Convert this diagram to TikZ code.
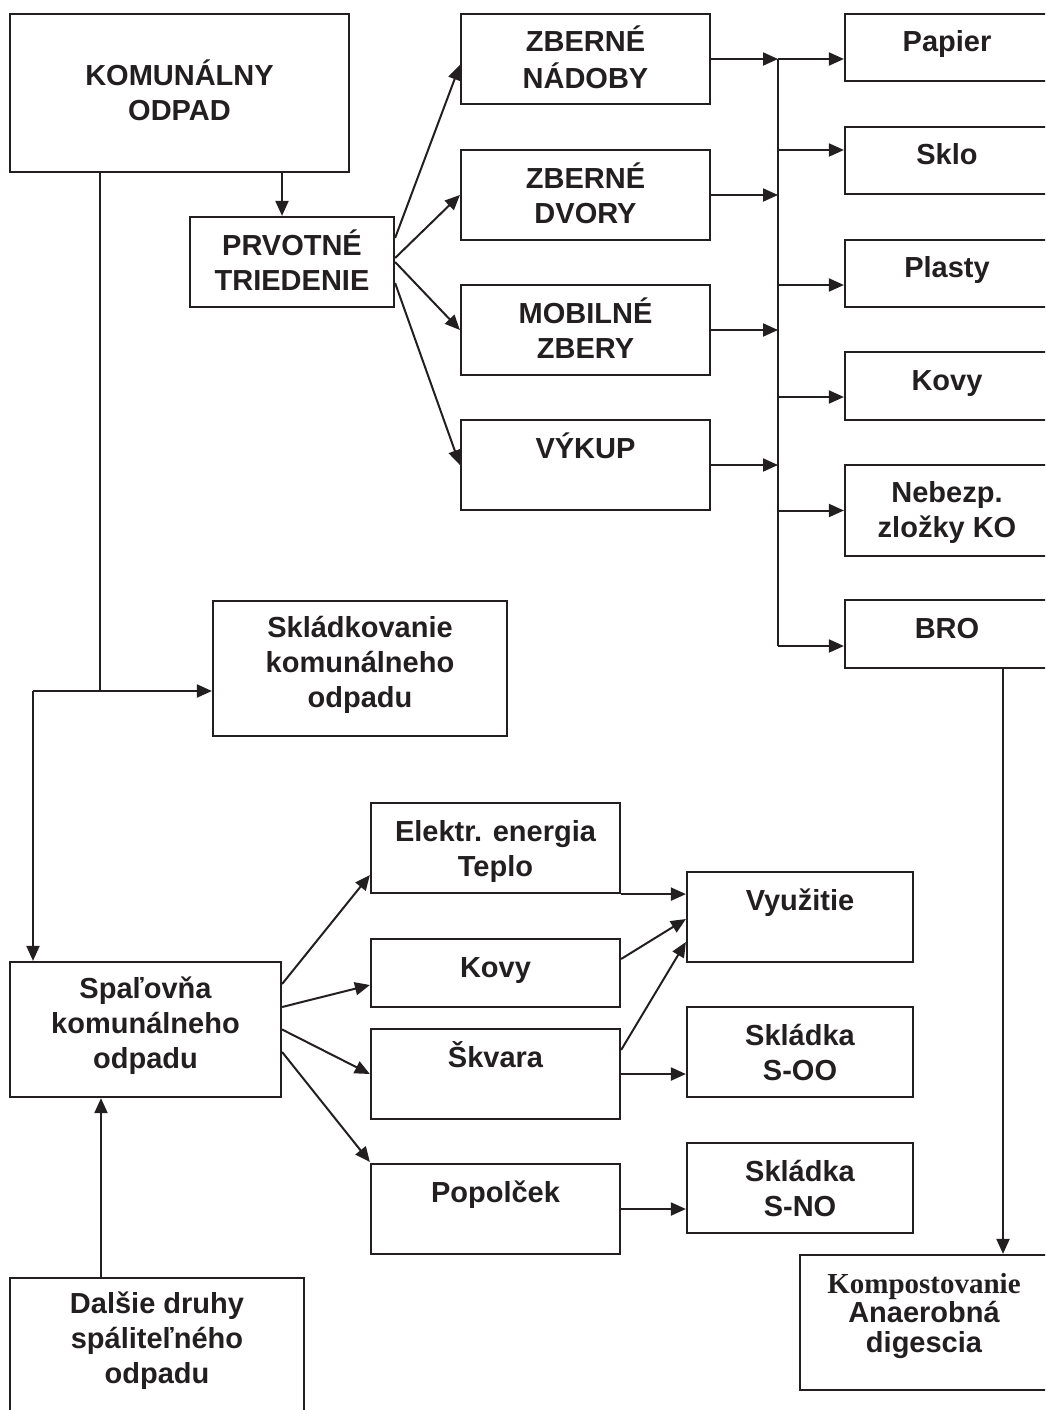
\documentclass[tikz,border=0pt]{standalone}
\usepackage{fontspec}
\setmainfont{Liberation Sans}
\newfontfamily\timesbf{Liberation Serif}
\usetikzlibrary{arrows.meta,calc}
\definecolor{ink}{HTML}{231F20}
\newcommand\mltx[1]{\begin{tabular}[t]{@{}c@{}}#1\end{tabular}}
\begin{document}
\begin{tikzpicture}[x=1pt,y=-1pt,
  box/.style={draw=ink, line width=2.2pt, rectangle, inner sep=0pt, text=ink,
              font=\fontsize{29}{35}\selectfont\bfseries},
  lo/.style={text height=#1, text depth=0pt},
  hi/.style={text height=0pt, text depth=#1},
  con/.style={draw=ink, line width=2pt},
  arr/.style={con, -{Triangle[length=15pt,width=13pt]}},
  mid/.style={box, minimum width=249pt, minimum height=90pt},
  rgt/.style={box, minimum width=204pt, minimum height=67pt, lo=8pt},
  low/.style={box, minimum width=249pt},
  res/.style={box, minimum width=226pt, minimum height=90pt, hi=14pt}
]
\path[use as bounding box] (0,0) rectangle (1045,1410);
\clip (0,0) rectangle (1045,1410);

% boxes
\node[box, minimum width=339pt, minimum height=158pt, hi=14pt] (ko) at (179.5,93) {\mltx{KOMUNÁLNY\\ODPAD}};
\node[box, minimum width=204pt, minimum height=90pt, hi=14pt] (prv) at (292,262) {\mltx{PRVOTNÉ\\TRIEDENIE}};

\node[mid, hi=14pt] (zn) at (585.5,59)  {\mltx{ZBERNÉ\\NÁDOBY}};
\node[mid, hi=14pt] (zd) at (585.5,195) {\mltx{ZBERNÉ\\DVORY}};
\node[mid, hi=14pt] (mz) at (585.5,330) {\mltx{MOBILNÉ\\ZBERY}};
\node[mid, hi=14pt] (vy) at (585.5,465) {\mltx{VÝKUP}};

\node[rgt] (pa) at (947,47.5)  {\mltx{Papier}};
\node[rgt] (sl) at (947,160.5) {\mltx{Sklo}};
\node[rgt] (pl) at (947,273.5) {\mltx{Plasty}};
\node[rgt, minimum height=68pt] (kv) at (947,386) {\mltx{Kovy}};
\node[box, minimum width=204pt, minimum height=91pt, hi=17pt] (ne) at (947,510.5) {\mltx{Nebezp.\\zložky KO}};
\node[rgt, minimum height=68pt] (br) at (947,634) {\mltx{BRO}};

\node[box, minimum width=294pt, minimum height=135pt, hi=63pt] (sk) at (360,668.5) {\mltx{Skládkovanie\\komunálneho\\odpadu}};
\node[box, minimum width=271pt, minimum height=135pt, hi=63pt] (sp) at (145.5,1029.5) {\mltx{Spaľovňa\\komunálneho\\odpadu}};

\node[low, minimum height=90pt, hi=14pt] (el) at (495.5,848)  {\mltx{Elektr. energia\\Teplo}};
\node[low, minimum height=68pt, lo=8pt]  (kw) at (495.5,973)  {\mltx{Kovy}};
\node[low, minimum height=90pt, hi=14pt] (sq) at (495.5,1074) {\mltx{Škvara}};
\node[low, minimum height=90pt, hi=14pt] (po) at (495.5,1209) {\mltx{Popolček}};

\node[res] (vu) at (800,917)  {\mltx{Využitie}};
\node[res] (so) at (800,1052) {\mltx{Skládka\\S-OO}};
\node[res] (sn) at (800,1188) {\mltx{Skládka\\S-NO}};

\node[box, minimum width=248pt, minimum height=135pt, hi=59pt,
      font=\fontsize{29}{28.5}\selectfont\bfseries] (kp) at (924,1322.5)
      {\mltx{{\timesbf Kompostovanie}\\Anaerobná\\digescia}};
\node[box, minimum width=294pt, minimum height=152pt, hi=82pt] (da) at (157,1354)
      {\mltx{Dalšie druhy\\spáliteľného\\odpadu}};

% helper coordinates
\coordinate (ax) at (282,0);
\coordinate (kx) at (100,691);
\coordinate (jx) at (33,691);
\coordinate (bus) at (778,0);
\coordinate (bx) at (1003,0);
\coordinate (dx) at (101,0);

% top part
\draw[arr] (ko.south -| ax) -- (prv.north -| ax);
\draw[con] (ko.south -| kx) -- (kx);
\draw[con] (kx) -- (jx);
\draw[arr] (jx) -- (sk.west |- jx);
\draw[arr] (jx) -- (sp.north -| jx);

\draw[arr] ($(prv.east)+(0,-24)$) -- ($(zn.west)+(0,6)$);
\draw[arr] ($(prv.east)+(0,-4)$) -- (zd.west);
\draw[arr] (prv.east) -- (mz.west);
\draw[arr] ($(prv.east)+(0,21)$) -- (vy.west);

\draw[arr] (zn.east) -- (zn.east -| bus);
\draw[arr] (zd.east) -- (zd.east -| bus);
\draw[arr] (mz.east) -- (mz.east -| bus);
\draw[arr] (vy.east) -- (vy.east -| bus);

\path ($(pa.west)+(0,11.5)$) coordinate (pain);
\path ($(sl.west)+(0,-10.5)$) coordinate (slin);
\path ($(pl.west)+(0,11.5)$) coordinate (plin);
\path ($(kv.west)+(0,11)$) coordinate (kvin);
\path (ne.west) coordinate (nein);
\path ($(br.west)+(0,12)$) coordinate (brin);

\draw[con] (pain -| bus) -- (brin -| bus);
\draw[arr] (pain -| bus) -- (pain);
\draw[arr] (slin -| bus) -- (slin);
\draw[arr] (plin -| bus) -- (plin);
\draw[arr] (kvin -| bus) -- (kvin);
\draw[arr] (nein -| bus) -- (nein);
\draw[arr] (brin -| bus) -- (brin);

\draw[arr] (br.south -| bx) -- (kp.north -| bx);

% lower part
\draw[arr] (da.north -| dx) -- (sp.south -| dx);

\draw[arr] ($(sp.east)+(0,-45.5)$) -- ($(el.west)+(0,27)$);
\draw[arr] ($(sp.east)+(0,-22.5)$) -- ($(kw.west)+(0,12)$);
\draw[arr] (sp.east) -- (sq.west);
\draw[arr] ($(sp.east)+(0,22.5)$) -- ($(po.west)+(0,-47)$);

\draw[arr] (el.south east) -- (el.south east -| vu.west);
\draw[arr] ($(kw.east)+(0,-14)$) -- ($(vu.west)+(0,2)$);
\draw[arr] ($(sq.east)+(0,-24)$) -- ($(vu.west)+(0,25)$);
\draw[arr] (sq.east) -- (sq.east -| so.west);
\draw[arr] (po.east) -- (po.east -| sn.west);
\end{tikzpicture}
\end{document}
